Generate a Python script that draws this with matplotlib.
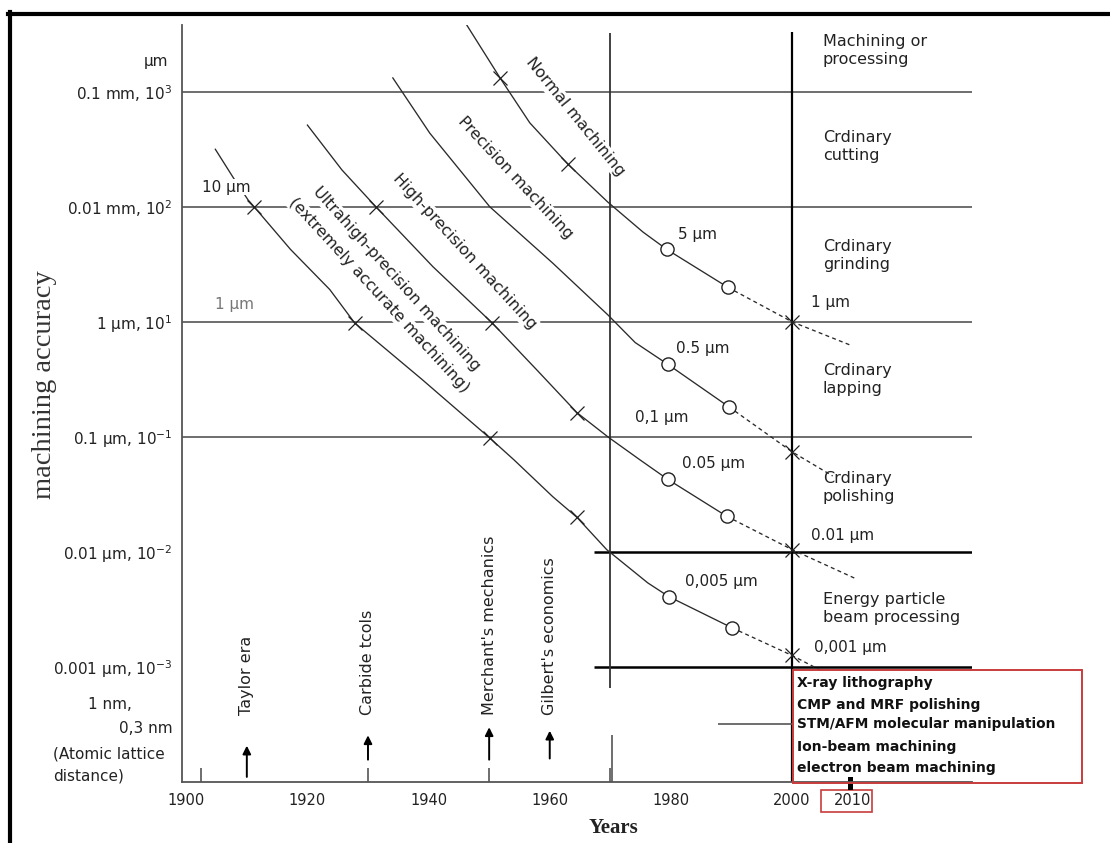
import matplotlib.pyplot as plt
import matplotlib.transforms as mtransforms
from matplotlib.patches import Rectangle
from matplotlib.lines import Line2D

# accuracy scale: one row per decade shown on the chart (top -> bottom)
acc_rows = [5, 4, 3, 2, 1, 0, -0.52]
acc_labels = ["0.1 mm, $10^{3}$", "0.01 mm, $10^{2}$", "1 µm, $10^{1}$",
              "0.1 µm, $10^{-1}$", "0.01 µm, $10^{-2}$", "0.001 µm, $10^{-3}$",
              "0,3 nm"]
year_ticks = [1900, 1920, 1940, 1960, 1980, 2000, 2010]
minor_years = [1902.5, 1920, 1930, 1940, 1950, 1960, 1970]

# curves: solid part (last two points carry the open circles), dashed tail, x marks
ultra_yr = [1904.8, 1907.8, 1910.2, 1911.2, 1917.2, 1923.7, 1927.8, 1938.9, 1950.1,
            1954.1, 1960.5, 1964.5, 1969.4, 1976.2, 1979.7, 1990.1]
ultra_lv = [4.50, 4.25, 4.06, 4.00, 3.63, 3.28, 2.99, 2.50, 1.99,
            1.80, 1.48, 1.30, 1.02, 0.73, 0.61, 0.34]
ultra_tail_yr = [1990.1, 2000, 2005.1]
ultra_tail_lv = [0.34, 0.10, -0.04]
ultra_x_yr = [1911.2, 1927.8, 1950.1, 1964.5, 2000]
ultra_x_lv = [4.00, 2.99, 1.99, 1.30, 0.10]

high_yr = [1920.0, 1925.7, 1931.3, 1940.7, 1950.5, 1957.9, 1964.5, 1969.6, 1974.9, 1979.5, 1989.2]
high_lv = [4.71, 4.32, 4.00, 3.48, 2.99, 2.58, 2.21, 2.00, 1.80, 1.63, 1.31]
high_tail_yr = [1989.2, 2000, 2010.4]
high_tail_lv = [1.31, 1.02, 0.77]
high_x_yr = [1931.3, 1950.5, 1964.5, 2000]
high_x_lv = [4.00, 2.99, 2.21, 1.02]

prec_yr = [1934.1, 1940.2, 1950.1, 1960.5, 1969.6, 1974.1, 1979.5, 1989.6]
prec_lv = [5.12, 4.64, 4.00, 3.51, 3.06, 2.82, 2.63, 2.26]
prec_tail_yr = [1989.6, 2000, 2006.7]
prec_tail_lv = [2.26, 1.87, 1.66]
prec_x_yr = [2000]
prec_x_lv = [1.87]

norm_yr = [1946.3, 1951.8, 1956.7, 1963.0, 1969.6, 1975.4, 1979.3, 1989.4]
norm_lv = [5.58, 5.12, 4.73, 4.37, 4.04, 3.78, 3.63, 3.30]
norm_tail_yr = [1989.4, 2000, 2009.5]
norm_tail_lv = [3.30, 3.00, 2.80]
norm_x_yr = [1951.8, 1963.0, 2000]
norm_x_lv = [5.12, 4.37, 3.00]

curve_names = ["Normal machining", "Precision machining", "High-precision machining",
               "Ultrahigh-precision machining", "(extremely accurate machining)"]
name_yr = [1964.2, 1954.3, 1946.0, 1934.7, 1931.9]
name_lv = [4.78, 4.25, 3.61, 3.37, 3.23]
name_angle = [-51, -47, -47.5, -48, -47.4]

value_labels = ["10 µm", "1 µm", "5 µm", "1 µm", "0.5 µm", "0,1 µm",
                "0.05 µm", "0.01 µm", "0,005 µm", "0,001 µm"]
value_yr = [1902.6, 1904.8, 1981.1, 2003.1, 1980.9, 1974.0, 1981.8, 2003.1, 1982.3, 2003.7]
value_lv = [4.17, 3.15, 3.76, 3.17, 2.77, 2.17, 1.77, 1.14, 0.74, 0.17]

process_labels = ["Machining or\nprocessing", "Crdinary\ncutting", "Crdinary\ngrinding",
                  "Crdinary\nlapping", "Crdinary\npolishing", "Energy particle\nbeam processing"]
process_lv = [5.36, 4.52, 3.58, 2.50, 1.56, 0.51]

event_labels = ["Taylor era", "Carbide tcols", "Merchant's mechanics", "Gilbert's economics"]
event_years = [1910, 1930, 1950, 1960]
event_base = [-0.98, -0.83, -0.83, -0.82]
event_tip = [-0.66, -0.57, -0.50, -0.53]

nano_items = ["X-ray lithography", "CMP and MRF polishing", "STM/AFM molecular manipulation",
              "Ion-beam machining", "electron beam machining"]
nano_lv = [-0.14, -0.33, -0.50, -0.70, -0.88]

plt.rcParams['font.family'] = ['DejaVu Sans']
fig = plt.figure(figsize=(11.1, 8.43), dpi=100)
ax = fig.add_axes([182 / 1110, 61 / 843, 790 / 1110, 757 / 843])
ax.set_xlim(1899.3, 2029.7)
ax.set_ylim(-1.0, 5.58)
for s in ['top', 'right']:
    ax.spines[s].set_visible(False)
for s in ['left', 'bottom']:
    ax.spines[s].set_color('#555')
    ax.spines[s].set_linewidth(1.3)

ax.set_xticks(year_ticks, [str(y) for y in year_ticks])
ax.set_xticks(minor_years, minor=True)
ax.tick_params(axis='x', which='major', length=0, pad=8, labelsize=10.5, labelcolor='#222')
ax.tick_params(axis='x', which='minor', length=10, direction='in', width=1.2, color='#555')
ax.set_yticks(acc_rows, acc_labels)
ax.set_yticks([0, -0.52], minor=True)
ax.tick_params(axis='y', which='major', length=0, pad=7, labelsize=11, labelcolor='#222')
ax.tick_params(axis='y', which='minor', length=6.5, direction='in', width=1, color='#555')

# grid of the chart
ax.hlines([5, 4, 3, 2], 1899.3, 2029.7, colors='#555', lw=1.2, zorder=1)
ax.hlines([1, 0], 1967.3, 2029.7, colors='black', lw=1.8, zorder=1)
ax.vlines(1970, -0.18, 5.51, colors='#333', lw=1.3, zorder=1)
ax.vlines(1970.3, -1.0, -0.59, colors='#555', lw=1.2, zorder=1)
ax.vlines(2000, -1.0, 5.52, colors='black', lw=1.6, zorder=1)
ax.hlines(-0.50, 1987.8, 2000.4, colors='#555', lw=1.2, zorder=1)


def draw_curve(yr, lv, tail_yr, tail_lv, x_yr, x_lv):
    ax.plot(yr, lv, color='#2a2a2a', lw=0.95, zorder=4)
    ax.plot(tail_yr, tail_lv, color='#2a2a2a', lw=0.95, ls=(0, (3, 2.5)), zorder=4)
    ax.plot(yr[-2:], lv[-2:], 'o', ms=9.5, mfc='white', mec='#222', mew=1.0, zorder=5)
    ax.plot(x_yr, x_lv, 'x', ms=10, color='#222', mew=0.9, zorder=5)


draw_curve(ultra_yr, ultra_lv, ultra_tail_yr, ultra_tail_lv, ultra_x_yr, ultra_x_lv)
draw_curve(high_yr, high_lv, high_tail_yr, high_tail_lv, high_x_yr, high_x_lv)
draw_curve(prec_yr, prec_lv, prec_tail_yr, prec_tail_lv, prec_x_yr, prec_x_lv)
draw_curve(norm_yr, norm_lv, norm_tail_yr, norm_tail_lv, norm_x_yr, norm_x_lv)

for name, yr, lv, ang in zip(curve_names, name_yr, name_lv, name_angle):
    ax.text(yr, lv, name, rotation=ang, rotation_mode='anchor', ha='center', va='center',
            fontsize=11.5, color='#222', zorder=3,
            bbox=dict(fc='white', ec='none', pad=0.6))

for i, (txt, yr, lv) in enumerate(zip(value_labels, value_yr, value_lv)):
    col = '#777' if i == 1 else '#222'
    ax.text(yr, lv, txt, ha='left', va='center', fontsize=11, color=col, zorder=6,
            bbox=dict(fc='white', ec='none', pad=0.3) if i == 0 else None)

for txt, lv in zip(process_labels, process_lv):
    ax.text(2005.1, lv, txt, ha='left', va='center', fontsize=11.5, color='#222',
            linespacing=1.25, clip_on=False)

for txt, yr, b, t in zip(event_labels, event_years, event_base, event_tip):
    ax.annotate('', xy=(yr, t), xytext=(yr, b), annotation_clip=False,
                arrowprops=dict(arrowstyle='-|>', color='black', lw=1.4, mutation_scale=12))
    ax.text(yr, -0.42, txt, rotation=90, ha='center', va='bottom', fontsize=11.5, color='#222')

# box listing nanometre processes
ax.add_patch(Rectangle((2000.2, -1.01), 47.6, 0.984, fill=False, ec='#c83c3c', lw=1.4,
                       clip_on=False, zorder=6))
for i, (txt, lv) in enumerate(zip(nano_items, nano_lv)):
    ax.text(2000.8, lv, txt, ha='left', va='center', fontsize=9.8 if i == 2 else 10,
            weight='bold', color='#111', clip_on=False, zorder=7)
ax.add_patch(Rectangle((2004.8, -1.26), 8.4, 0.19, fill=False, ec='#c83c3c', lw=1.2,
                       clip_on=False))
ax.add_patch(Rectangle((2009.2, -1.07), 0.9, 0.11, fc='black', ec='none', clip_on=False))

# texts at the left of the scale
blend = mtransforms.blended_transform_factory(ax.transAxes, ax.transData)
ax.text(-0.018, 5.26, "µm", transform=blend, ha='right', va='center', fontsize=11, color='#222')
ax.text(-0.063, -0.33, "1 nm,", transform=blend, ha='right', va='center', fontsize=11, color='#222')
ax.text(-0.163, -0.76, "(Atomic lattice", transform=blend, ha='left', va='center', fontsize=11, color='#222')
ax.text(-0.163, -0.95, "distance)", transform=blend, ha='left', va='center', fontsize=11, color='#222')

fig.text(45 / 1110, 1 - 385 / 843, "machining accuracy", rotation=90, family='Liberation Serif',
         fontsize=20.5, ha='center', va='center', color='#333')
fig.text(613 / 1110, 1 - 828 / 843, "Years", family='Liberation Serif', weight='bold',
         fontsize=15, ha='center', va='center', color='#222')

# frame around the scan
fig.add_artist(Line2D([8 / 1110, 1], [1 - 13.5 / 843] * 2, color='black', lw=3,
                      transform=fig.transFigure))
fig.add_artist(Line2D([10 / 1110] * 2, [0, 1 - 12 / 843], color='black', lw=3,
                      transform=fig.transFigure))

fig.savefig('out.png', dpi=100)
